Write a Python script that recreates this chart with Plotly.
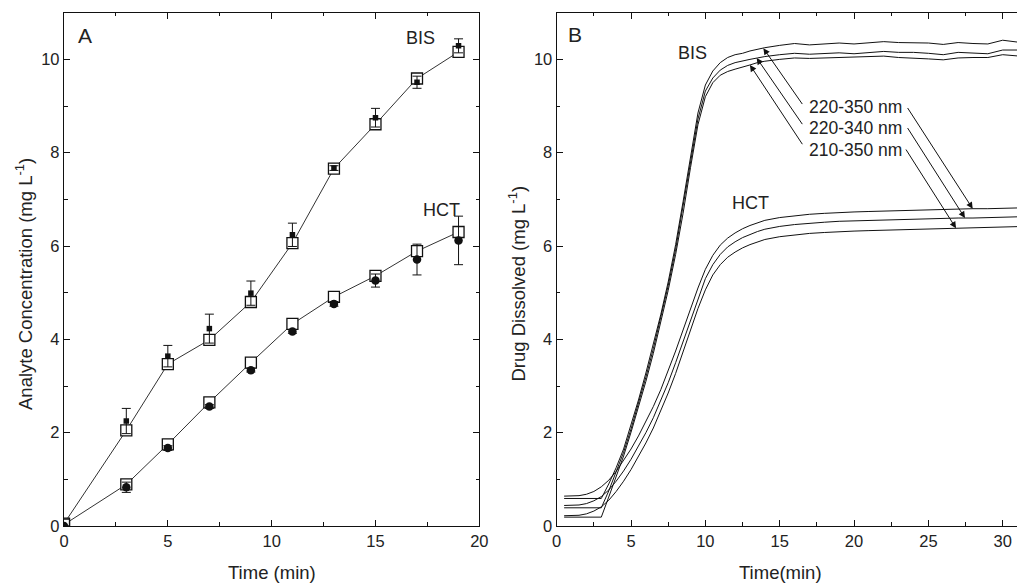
import plotly.graph_objects as go

# The page body has an 8px margin, so the figure is sized to fit the window
OFF = 8
W, H = 1025 - OFF, 583 - OFF


def px(x):
    return (x - OFF) / W


def py(y):
    return 1 - (y - OFF) / H


# ---------------- Panel A data ----------------
time_a = [0, 3, 5, 7, 9, 11, 13, 15, 17, 19]
bis_open = [0.05, 2.05, 3.47, 3.99, 4.80, 6.06, 7.66, 8.61, 9.59, 10.16]
hct_open = [0.03, 0.89, 1.75, 2.65, 3.50, 4.33, 4.91, 5.36, 5.89, 6.30]
bis_fill = [0.0, 2.25, 3.64, 4.23, 4.99, 6.24, 7.67, 8.75, 9.51, 10.29]
bis_err = [0.0, 0.27, 0.23, 0.31, 0.26, 0.25, 0.05, 0.20, 0.13, 0.15]
hct_fill = [0.0, 0.83, 1.67, 2.56, 3.34, 4.17, 4.76, 5.26, 5.71, 6.12]
hct_err = [0.0, 0.11, 0.05, 0.04, 0.04, 0.04, 0.05, 0.14, 0.33, 0.52]

# ---------------- Panel B data ----------------
time_b = [0.5, 1, 1.5, 2, 2.5, 3, 3.5, 4, 4.5, 5, 5.5, 6, 6.5, 7, 7.5, 8, 8.5, 9,
          9.5, 10, 10.5, 11, 11.5, 12, 12.5, 13, 13.5, 14, 15, 16, 17, 18, 19, 20,
          21, 22, 23, 24, 25, 26, 27, 28, 29, 30, 31, 31.5]
bis_220_350 = [0.59, 0.59, 0.59, 0.59, 0.59, 0.59, 0.90, 1.25, 1.65, 2.15, 2.70, 3.28,
               3.88, 4.53, 5.23, 6.03, 6.95, 7.95, 8.85, 9.45, 9.75, 9.93, 10.04, 10.10,
               10.13, 10.18, 10.22, 10.25, 10.30, 10.34, 10.31, 10.33, 10.35, 10.33,
               10.35, 10.38, 10.36, 10.36, 10.35, 10.32, 10.36, 10.34, 10.33, 10.41,
               10.38, 10.35]
bis_220_340 = [0.39, 0.39, 0.39, 0.39, 0.39, 0.39, 0.75, 1.15, 1.58, 2.08, 2.62, 3.19,
               3.80, 4.45, 5.15, 5.93, 6.83, 7.82, 8.72, 9.32, 9.60, 9.77, 9.87, 9.93,
               9.97, 10.00, 10.03, 10.06, 10.10, 10.13, 10.11, 10.12, 10.14, 10.12,
               10.15, 10.17, 10.15, 10.15, 10.13, 10.10, 10.15, 10.13, 10.12, 10.20,
               10.20, 10.16]
bis_210_350 = [0.19, 0.19, 0.19, 0.19, 0.19, 0.19, 0.62, 1.05, 1.50, 2.01, 2.54, 3.10,
               3.70, 4.35, 5.05, 5.82, 6.70, 7.68, 8.60, 9.20, 9.50, 9.66, 9.74, 9.79,
               9.83, 9.88, 9.93, 9.96, 10.00, 10.03, 10.02, 10.03, 10.05, 10.05, 10.06,
               10.07, 10.04, 10.03, 10.01, 9.99, 10.03, 10.04, 10.04, 10.10, 10.08, 10.06]
hct_220_350 = [0.64, 0.64, 0.65, 0.68, 0.74, 0.84, 0.98, 1.17, 1.40, 1.65, 1.93, 2.23,
               2.56, 2.92, 3.32, 3.75, 4.20, 4.66, 5.10, 5.50, 5.80, 6.02, 6.17, 6.28,
               6.37, 6.44, 6.50, 6.55, 6.61, 6.65, 6.68, 6.70, 6.72, 6.73, 6.74, 6.75,
               6.76, 6.77, 6.77, 6.78, 6.79, 6.80, 6.80, 6.81, 6.82, 6.82]
hct_220_340 = [0.44, 0.44, 0.45, 0.48, 0.54, 0.63, 0.77, 0.96, 1.18, 1.43, 1.70, 2.00,
               2.32, 2.68, 3.07, 3.50, 3.95, 4.42, 4.88, 5.30, 5.60, 5.82, 5.98, 6.09,
               6.18, 6.25, 6.31, 6.36, 6.42, 6.46, 6.49, 6.51, 6.53, 6.54, 6.55, 6.56,
               6.57, 6.57, 6.58, 6.59, 6.60, 6.60, 6.61, 6.62, 6.62, 6.63]
hct_210_350 = [0.22, 0.22, 0.23, 0.26, 0.32, 0.41, 0.55, 0.74, 0.96, 1.21, 1.48, 1.78,
               2.10, 2.46, 2.85, 3.27, 3.72, 4.20, 4.66, 5.06, 5.38, 5.60, 5.76, 5.87,
               5.96, 6.03, 6.09, 6.14, 6.20, 6.24, 6.27, 6.29, 6.31, 6.32, 6.33, 6.34,
               6.35, 6.36, 6.36, 6.37, 6.38, 6.39, 6.40, 6.41, 6.42, 6.42]

wavelength_labels = ["220-350 nm", "220-340 nm", "210-350 nm"]

INK = "#111111"
TXT = "#222222"
FONT = "Liberation Sans, Arial, Helvetica, sans-serif"

fig = go.Figure()

# Panel A: open squares (connected), then filled markers with error bars on top
fig.add_trace(go.Scatter(
    x=time_a, y=bis_open, mode="lines+markers", xaxis="x", yaxis="y",
    line=dict(color="#333333", width=1),
    marker=dict(symbol="square", size=11, color="white", line=dict(color=INK, width=1.3)),
    showlegend=False))
fig.add_trace(go.Scatter(
    x=time_a, y=hct_open, mode="lines+markers", xaxis="x", yaxis="y",
    line=dict(color="#333333", width=1),
    marker=dict(symbol="square", size=11, color="white", line=dict(color=INK, width=1.3)),
    showlegend=False))
fig.add_trace(go.Scatter(
    x=time_a, y=bis_fill, mode="markers", xaxis="x", yaxis="y",
    marker=dict(symbol="square", size=5.5, color=INK),
    error_y=dict(type="data", array=bis_err, visible=True, color=INK, thickness=1, width=4.5),
    showlegend=False))
fig.add_trace(go.Scatter(
    x=time_a, y=hct_fill, mode="markers", xaxis="x", yaxis="y",
    marker=dict(symbol="circle", size=8.5, color=INK),
    error_y=dict(type="data", array=hct_err, visible=True, color=INK, thickness=1, width=4.5),
    showlegend=False))

# Panel B curves
for ys in [bis_220_350, bis_220_340, bis_210_350, hct_220_350, hct_220_340, hct_210_350]:
    fig.add_trace(go.Scatter(
        x=time_b, y=ys, mode="lines", xaxis="x2", yaxis="y2",
        line=dict(color=INK, width=1), showlegend=False))

axis_common = dict(
    showline=True, linecolor=INK, linewidth=1.3,
    ticks="inside", ticklen=6, tickwidth=1.2, tickcolor=INK,
    showgrid=False, zeroline=False, automargin=False,
    tickfont=dict(family=FONT, size=16.5, color=TXT),
)

x_b_max = (1025 - 556.7) / 14.867

fig.update_layout(
    width=W, height=H,
    margin=dict(l=0, r=0, t=0, b=0),
    plot_bgcolor="white", paper_bgcolor="white",
    font=dict(family=FONT, color=TXT),
    xaxis=dict(domain=[px(64), px(479.3)], range=[0, 20], anchor="y",
               tick0=0, dtick=5, mirror="ticks",
               minor=dict(ticks="inside", ticklen=3.5, tickwidth=1, tickcolor=INK, dtick=2.5),
               **axis_common),
    yaxis=dict(domain=[py(526), py(12.7)], range=[0, 11], anchor="x",
               tick0=0, dtick=2, mirror="ticks",
               minor=dict(ticks="inside", ticklen=3.5, tickwidth=1, tickcolor=INK, dtick=1),
               **axis_common),
    xaxis2=dict(domain=[px(556.7), 1], range=[0, x_b_max], anchor="y2",
                tick0=0, dtick=5, mirror="ticks",
                minor=dict(ticks="inside", ticklen=3.5, tickwidth=1, tickcolor=INK, dtick=2.5),
                **axis_common),
    yaxis2=dict(domain=[py(526), py(12.7)], range=[0, 11], anchor="x2",
                tick0=0, dtick=2, mirror=False,
                minor=dict(ticks="inside", ticklen=3.5, tickwidth=1, tickcolor=INK, dtick=1),
                **axis_common),
)

ann = []


def text_ann(x, y, text, size, angle=0, xanchor="center"):
    ann.append(dict(x=px(x), y=py(y), xref="paper", yref="paper", text=text,
                    showarrow=False, textangle=angle, xanchor=xanchor, yanchor="middle",
                    font=dict(family=FONT, size=size, color=TXT)))


# axis titles
text_ann(271.5, 572, "Time (min)", 18.5)
text_ann(780, 572, "Time(min)", 18.5)
text_ann(24, 284, "Analyte Concentration (mg L<sup>-1</sup>)", 18.5, angle=-90)
text_ann(517.5, 284, "Drug Dissolved (mg L<sup>-1</sup>)", 18.5, angle=-90)

# panel labels
text_ann(84.5, 35.5, "A", 21)
text_ann(575, 34, "B", 21)
text_ann(420, 38, "BIS", 18)
text_ann(441, 210, "HCT", 18)
text_ann(692.5, 53, "BIS", 18)
text_ann(750, 203, "HCT", 18)

# wavelength labels
for lbl, yy in zip(wavelength_labels, [106.5, 128, 150]):
    text_ann(807, yy, lbl, 17.5, xanchor="left")

# arrows (head on curve, tail at label)
arrows = [
    (13.9, 10.24, 16.59, 9.01),
    (13.45, 10.03, 16.59, 8.58),
    (13.0, 9.88, 16.59, 8.15),
    (27.98, 6.80, 23.54, 8.99),
    (27.46, 6.60, 23.54, 8.56),
    (26.86, 6.38, 23.43, 8.10),
]
for hx, hy, tx, ty in arrows:
    ann.append(dict(x=hx, y=hy, ax=tx, ay=ty, xref="x2", yref="y2", axref="x2", ayref="y2",
                    text="", showarrow=True, arrowhead=2, arrowsize=1.3, arrowwidth=1,
                    arrowcolor=INK, standoff=0, startstandoff=0))

fig.update_layout(annotations=ann)

fig.write_html("out.html")
